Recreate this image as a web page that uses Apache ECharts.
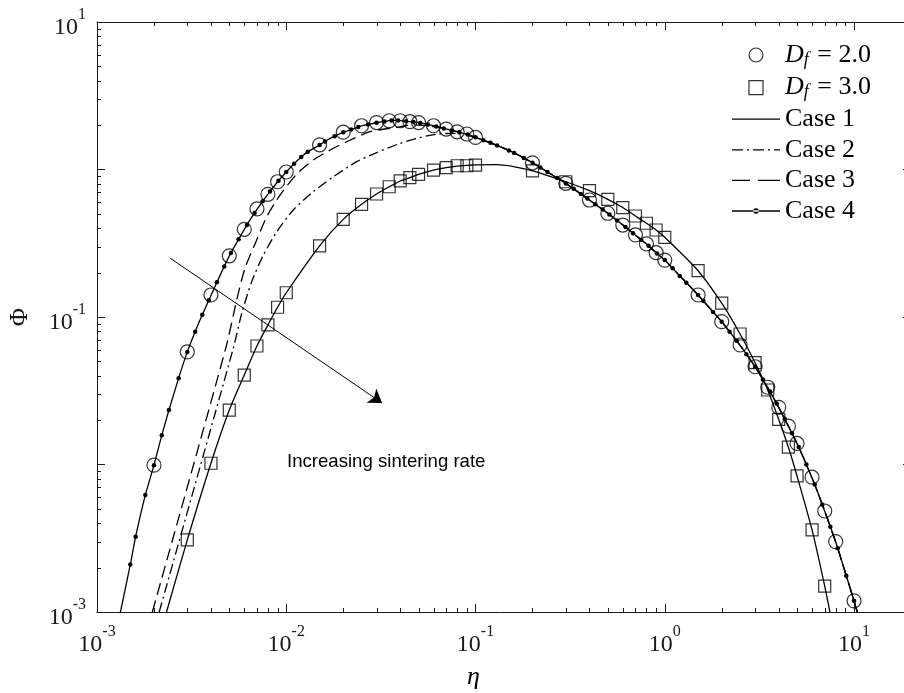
<!DOCTYPE html>
<html>
<head>
<meta charset="utf-8">
<script src="https://cdn.jsdelivr.net/npm/echarts@6.0.0/dist/echarts.min.js"></script>
<style>
html,body{margin:0;padding:0;background:#fff;}
#chart{width:904px;height:693px;}
</style>
</head>
<body>
<div id="chart"></div>
<script>
// ---- axis ticks ----
const xTickValues = [0.001, 0.01, 0.1, 1, 10];
const yTickValues = [0.001, 0.01, 0.1, 1, 10];
const yLabelledExponents = [-3, -1, 1];
const minorMultipliers = [2, 3, 4, 5, 6, 7, 8, 9];

// ---- markers: D_f = 2.0 (circles) ----
const circleEta = [0.002,0.003,0.004,0.005,0.006,0.007,0.008,0.009,0.01,0.015,0.02,0.025,0.03,0.035,0.04,0.045,0.05,0.06,0.07,0.08,0.09,0.1,0.2,0.3,0.4,0.5,0.6,0.7,0.8,0.9,1,1.5,2,2.5,3,3.5,4,4.5,5,6,7,8,10];
const circlePhi = [0.0099,0.058,0.141,0.26,0.393,0.54,0.679,0.826,0.962,1.47,1.79,1.98,2.08,2.14,2.14,2.11,2.08,1.98,1.88,1.80,1.74,1.65,1.11,0.806,0.621,0.505,0.42,0.36,0.313,0.273,0.243,0.141,0.093,0.0646,0.046,0.0334,0.0244,0.0182,0.0139,0.0082,0.00484,0.0030,0.00119];

// ---- markers: D_f = 3.0 (squares) ----
const squareEta = [0.003,0.004,0.005,0.006,0.007,0.008,0.009,0.01,0.015,0.02,0.025,0.03,0.035,0.04,0.045,0.05,0.06,0.07,0.08,0.09,0.1,0.2,0.3,0.4,0.5,0.6,0.7,0.8,0.9,1,1.5,2,2.5,3,3.5,4,4.5,5,6,7];
const squarePhi = [0.00308,0.0102,0.0234,0.0404,0.0636,0.0883,0.1164,0.146,0.304,0.459,0.581,0.682,0.764,0.836,0.88,0.927,0.99,1.03,1.06,1.06,1.07,0.98,0.826,0.718,0.628,0.552,0.484,0.432,0.389,0.347,0.206,0.124,0.0767,0.049,0.032,0.0202,0.0131,0.00836,0.0036,0.0015];

// ---- Case 1 (solid) ----
const case1Eta = [0.00233,0.003,0.004,0.005,0.006,0.007,0.008,0.009,0.01,0.015,0.02,0.025,0.03,0.035,0.04,0.045,0.05,0.06,0.07,0.08,0.09,0.1,0.13,0.2,0.3,0.4,0.5,0.6,0.7,0.8,0.9,1,1.5,2,2.5,3,3.5,4,4.5,5,6,7,7.46];
const case1Phi = [0.001,0.00308,0.0102,0.0234,0.0404,0.0636,0.0883,0.1164,0.146,0.304,0.459,0.581,0.682,0.764,0.836,0.88,0.927,0.99,1.03,1.055,1.065,1.075,1.08,0.98,0.826,0.718,0.628,0.552,0.484,0.432,0.389,0.347,0.206,0.124,0.0767,0.049,0.032,0.0202,0.0131,0.00836,0.0036,0.0015,0.001];

// ---- Case 2 (dash-dot), rising branch ----
const case2HeadEta = [0.00213,0.00525,0.00582,0.00656,0.00757,0.00891,0.01089,0.0139,0.01774,0.02355,0.02944,0.0398,0.0501,0.0631,0.0794,0.1,0.13];
const case2HeadPhi = [0.001,0.0614,0.106,0.173,0.263,0.378,0.531,0.708,0.893,1.13,1.288,1.50,1.64,1.74,1.76,1.65,1.455];

// ---- Case 3 (dashed), rising branch ----
const case3HeadEta = [0.00196,0.00479,0.00547,0.00605,0.00698,0.00789,0.00927,0.01135,0.0139,0.01774,0.02084,0.02773,0.03837,0.0469,0.056,0.068,0.082,0.1,0.11,0.12,0.13];
const case3HeadPhi = [0.001,0.0614,0.130,0.214,0.333,0.479,0.671,0.931,1.159,1.393,1.542,1.803,1.932,2.004,1.98,1.90,1.79,1.652,1.58,1.517,1.455];

// ---- Case 4 (line with dots), rising branch ----
const case4HeadEta = [0.0013,0.0015,0.0016,0.0018,0.002,0.0022,0.0024,0.0027,0.003,0.0033,0.0036,0.0039,0.0043,0.0047,0.0051,0.0056,0.0062,0.0068,0.0075,0.0082,0.0091,0.01,0.011,0.012,0.013,0.015,0.016,0.018,0.02,0.022,0.024,0.027,0.03,0.033,0.036,0.039,0.043,0.047,0.051,0.056,0.062,0.068,0.075,0.082,0.091,0.1,0.11,0.12,0.13];
const case4HeadPhi = [0.00087,0.0021,0.00324,0.0062,0.0099,0.0158,0.0234,0.0385,0.058,0.0795,0.1035,0.130,0.172,0.220,0.272,0.336,0.421,0.508,0.608,0.708,0.839,0.962,1.094,1.216,1.321,1.466,1.549,1.683,1.786,1.866,1.944,2.02,2.075,2.118,2.153,2.153,2.123,2.10,2.07,2.02,1.96,1.90,1.84,1.79,1.73,1.652,1.58,1.517,1.455];

// ---- Cases 2, 3, 4 coincide beyond eta ~ 0.15 ----
const sharedTailEta = [0.15,0.16,0.18,0.2,0.22,0.24,0.27,0.3,0.33,0.36,0.39,0.43,0.47,0.51,0.56,0.62,0.68,0.75,0.82,0.91,1.0,1.1,1.2,1.3,1.5,1.6,1.8,2.0,2.2,2.4,2.7,3.0,3.3,3.6,3.9,4.3,4.7,5.1,5.6,6.2,6.8,7.5,8.2,9.1,10,11];
const sharedTailPhi = [1.346,1.296,1.197,1.112,1.03,0.962,0.876,0.805,0.739,0.683,0.635,0.581,0.535,0.495,0.451,0.407,0.370,0.334,0.304,0.2695,0.243,0.214,0.190,0.171,0.141,0.1283,0.1082,0.0929,0.0795,0.069,0.056,0.046,0.0377,0.0312,0.0259,0.0204,0.0163,0.01315,0.0100,0.00731,0.00534,0.00378,0.00271,0.00176,0.00119,0.00078];

// ---- annotation ----
const arrowStart = [0.00243, 0.251];
const arrowEnd = [0.0321, 0.0261];
const annotationText = 'Increasing sintering rate';

function zip(xs, ys) { return xs.map((x, i) => [x, ys[i]]); }

const AX = '#1a1a1a';
const SERIF = 'Liberation Serif, Times New Roman, serif';

const xMinorTicks = [];
xTickValues.forEach(d => minorMultipliers.forEach(m => { const v = d * m; if (v < 20) xMinorTicks.push([v, 1]); }));
const yMinorTicks = [];
yTickValues.slice(0, 4).forEach(d => minorMultipliers.forEach(m => yMinorTicks.push([1, d * m])));

function powLabel(v, allowed) {
  const e = Math.log10(v); const r = Math.round(e);
  if (Math.abs(e - r) > 1e-6) return '';
  if (allowed && allowed.indexOf(r) < 0) return '';
  return '{b|10}{s|' + r + '}';
}
const labelRich = {
  b: { fontFamily: SERIF, fontSize: 24, color: AX, padding: [12, 0, 0, 0] },
  s: { fontFamily: SERIF, fontSize: 16, color: AX, padding: [0, 0, 14, 0] }
};

const tickStyle = { stroke: AX, lineWidth: 1 };
function xMinorRender(params, api) {
  const cs = params.coordSys;
  const x = Math.round(api.coord([api.value(0), 1])[0]) + 0.5;
  return { type: 'group', children: [
    { type: 'line', shape: { x1: x, y1: cs.y + cs.height, x2: x, y2: cs.y + cs.height - 4 }, style: tickStyle },
    { type: 'line', shape: { x1: x, y1: cs.y, x2: x, y2: cs.y + 4 }, style: tickStyle }
  ]};
}
function yMinorRender(params, api) {
  const cs = params.coordSys;
  const y = Math.round(api.coord([1, api.value(1)])[1]) + 0.5;
  return { type: 'group', children: [
    { type: 'line', shape: { x1: cs.x, y1: y, x2: cs.x + 4, y2: y }, style: tickStyle },
    { type: 'line', shape: { x1: cs.x + cs.width, y1: y, x2: cs.x + cs.width - 4, y2: y }, style: tickStyle }
  ]};
}

const baseAxis = {
  type: 'log', logBase: 10,
  axisLine: { show: true, lineStyle: { color: AX, width: 1 } },
  axisTick: { show: true, inside: true, length: 8, lineStyle: { color: AX, width: 1 } },
  minorTick: { show: false },
  splitLine: { show: false }
};

const lineStyleBase = { color: '#000', width: 1.3 };

const option = {
  animation: false,
  backgroundColor: '#fff',
  grid: { left: 97, top: 22, width: 814, height: 590, containLabel: false, outerBoundsMode: 'none' },
  xAxis: [
    Object.assign({}, baseAxis, { position: 'bottom', min: 0.001, max: 20,
      axisLabel: { show: true, margin: 9, formatter: v => powLabel(v), rich: labelRich, hideOverlap: false } }),
    Object.assign({}, baseAxis, { position: 'top', min: 0.001, max: 20, axisLabel: { show: false } })
  ],
  yAxis: [
    Object.assign({}, baseAxis, { position: 'left', min: 0.001, max: 10,
      name: 'Φ', nameLocation: 'middle', nameGap: 64, nameRotate: 90,
      nameTextStyle: { fontFamily: SERIF, fontSize: 25, color: AX },
      axisLabel: { show: true, margin: 11, formatter: v => powLabel(v, yLabelledExponents), rich: labelRich, hideOverlap: false } }),
    Object.assign({}, baseAxis, { position: 'right', min: 0.001, max: 10, axisLabel: { show: false } })
  ],
  legend: {
    left: 732, top: 41, orient: 'vertical', padding: 0,
    itemWidth: 48, itemHeight: 14, itemGap: 4.6,
    selectedMode: false,
    textStyle: {
      fontFamily: SERIF, fontSize: 26, color: '#000', lineHeight: 25,
      rich: {
        n: { fontFamily: SERIF, fontSize: 26, color: '#000', lineHeight: 25 },
        it: { fontFamily: SERIF, fontSize: 26, fontStyle: 'italic', color: '#000', lineHeight: 25 },
        sub: { fontFamily: SERIF, fontSize: 18, fontStyle: 'italic', color: '#000', lineHeight: 15, padding: [10, 2, 0, 0] }
      }
    },
    formatter: name => name.indexOf('Df') === 0 ? '{it|D}{sub|f}{n| = ' + name.slice(-3) + '}' : '{n|' + name + '}',
    data: [
      { name: 'Df = 2.0', icon: 'circle', itemStyle: { color: 'rgba(0,0,0,0)', borderColor: '#000', borderWidth: 1.2 } },
      { name: 'Df = 3.0', icon: 'path://M0,0h12v12h-12z', itemStyle: { color: 'rgba(0,0,0,0)', borderColor: '#000', borderWidth: 1.2 } },
      { name: 'Case 1', icon: 'path://M0,0h48v1.3h-48z', itemStyle: { color: '#000', borderWidth: 0 } },
      { name: 'Case 2', icon: 'path://M0,0h11v1.3h-11z M15,0h2v1.3h-2z M21,0h11v1.3h-11z M36,0h2v1.3h-2z M42,0h6v1.3h-6z', itemStyle: { color: '#000', borderWidth: 0 } },
      { name: 'Case 3', icon: 'path://M0,0h18v1.3h-18z M26,0h22v1.3h-22z', itemStyle: { color: '#000', borderWidth: 0 } },
      { name: 'Case 4', icon: 'path://M0,2h48v1.3h-48z M21.3,2.65a2.7,2.7 0 1,0 5.4,0a2.7,2.7 0 1,0 -5.4,0z', itemStyle: { color: '#000', borderWidth: 0 } }
    ]
  },
  graphic: [
    { type: 'text', left: 287, top: 452, style: { text: annotationText, fontFamily: 'Liberation Sans, Arial, sans-serif', fontSize: 18.6, fill: '#000' } },
    { type: 'text', left: 467, top: 664, style: { text: 'η', fontFamily: SERIF, fontStyle: 'italic', fontSize: 26, fill: '#000' } }
  ],
  series: [
    { name: 'xminor', type: 'custom', silent: true, renderItem: xMinorRender, data: xMinorTicks, z: 1 },
    { name: 'yminor', type: 'custom', silent: true, renderItem: yMinorRender, data: yMinorTicks, z: 1 },
    { name: 'Case 1', type: 'line', data: zip(case1Eta, case1Phi), symbol: 'none', smooth: 0.25, clip: true,
      lineStyle: Object.assign({}, lineStyleBase, { type: 'solid' }), itemStyle: { color: '#000' },
      markLine: { silent: true, symbol: ['none', 'arrow'], symbolSize: 13, label: { show: false },
        lineStyle: { color: '#000', width: 1, type: 'solid' },
        data: [[{ coord: arrowStart }, { coord: arrowEnd }]] } },
    { name: 'Case 2', type: 'line', data: zip(case2HeadEta.concat(sharedTailEta), case2HeadPhi.concat(sharedTailPhi)), symbol: 'none', smooth: 0.25, clip: true,
      lineStyle: Object.assign({}, lineStyleBase, { type: [10, 4, 2, 4] }), itemStyle: { color: '#000' } },
    { name: 'Case 3', type: 'line', data: zip(case3HeadEta.concat(sharedTailEta), case3HeadPhi.concat(sharedTailPhi)), symbol: 'none', smooth: 0.25, clip: true,
      lineStyle: Object.assign({}, lineStyleBase, { type: [12, 6] }), itemStyle: { color: '#000' } },
    { name: 'Case 4', type: 'line', data: zip(case4HeadEta.concat(sharedTailEta), case4HeadPhi.concat(sharedTailPhi)), symbol: 'circle', symbolSize: 4.5, showSymbol: true, smooth: 0.2, clip: true,
      lineStyle: Object.assign({}, lineStyleBase, { type: 'solid' }), itemStyle: { color: '#000' } },
    { name: 'Df = 2.0', type: 'scatter', data: zip(circleEta, circlePhi), symbol: 'circle', symbolSize: 14, clip: true,
      itemStyle: { color: 'rgba(0,0,0,0)', borderColor: '#000', borderWidth: 1.2 }, z: 4 },
    { name: 'Df = 3.0', type: 'scatter', data: zip(squareEta, squarePhi), symbol: 'rect', symbolSize: 12, clip: true,
      itemStyle: { color: 'rgba(0,0,0,0)', borderColor: '#000', borderWidth: 1.2 }, z: 4 }
  ]
};

const chart = echarts.init(document.getElementById('chart'), null, { renderer: 'canvas' });
chart.setOption(option);
</script>
</body>
</html>
